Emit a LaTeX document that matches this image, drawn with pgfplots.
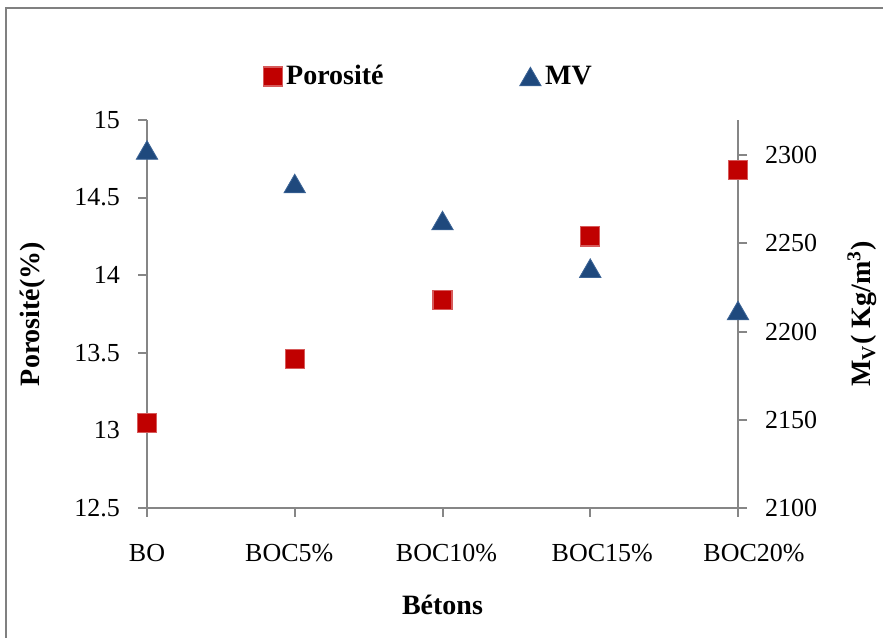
\documentclass[border=0pt]{standalone}
\usepackage{pgfplots}
\pgfplotsset{compat=1.18}
\usepackage{fontspec}
\setmainfont{Liberation Serif}
\definecolor{axgray}{RGB}{134,134,134}
\definecolor{framegray}{RGB}{128,128,128}
\definecolor{pred}{RGB}{192,0,0}
\definecolor{predb}{RGB}{214,90,90}
\definecolor{mblue}{RGB}{31,73,125}
\definecolor{mblueb}{RGB}{60,100,150}
\pgfplotsset{
  common/.style={
    set layers,
    scale only axis, width=295.5pt, height=194pt,
    at={(73.5pt,64.5pt)}, anchor=south west,
    xmin=0, xmax=4, clip=false,
    axis line style={axgray, line width=1pt, -},
    tick style={axgray, line width=1pt},
    tick align=outside, major tick length=4.5pt,
    tick label style={font=\fontsize{13}{15}\selectfont},
    /pgf/number format/assume math mode=true,
    /pgf/number format/1000 sep={},
  }
}
\begin{document}
\begin{tikzpicture}
\draw[framegray, line width=0.9pt] (3pt,-5pt) rectangle (446pt,314.5pt);
\begin{axis}[common,
  ymin=12.5, ymax=15,
  axis x line*=bottom, axis y line*=left,
  xtick={0,1,2,3,4},
  xticklabels={BO,\hspace*{-5.5pt}BOC5\%,\hspace*{4pt}BOC10\%,\hspace*{12pt}BOC15\%,\hspace*{16pt}BOC20\%},
  ytick={12.5,13,13.5,14,14.5,15},
  yticklabels={12.5,13,13.5,14,14.5,15},
  xticklabel style={yshift=-10pt},
  yticklabel style={xshift=-5.5pt},
  xlabel={Bétons}, ylabel={Porosité(\%)},
  every axis x label/.style={at={(axis description cs:0.5,-0.25)}, anchor=center,
    font=\bfseries\fontsize{14}{17}\selectfont},
  every axis y label/.style={at={(axis description cs:-0.193,0.5)}, rotate=90, anchor=center,
    font=\bfseries\fontsize{14}{17}\selectfont},
]
\addplot[only marks, mark=square*, mark size=4.75pt,
  mark options={fill=pred, draw=predb, line width=0.6pt}]
  coordinates {(0,13.05) (1,13.46) (2,13.84) (3,14.25) (4,14.68)};
\end{axis}
\begin{axis}[common,
  ymin=2100, ymax=2320,
  axis x line=none, axis y line*=right,
  ytick={2100,2150,2200,2250,2300},
  yticklabel style={xshift=5.5pt},
  ylabel={M\textsubscript{V}( Kg/m\textsuperscript{3})},
  every axis y label/.style={at={(axis description cs:1.21,0.5)}, rotate=90, anchor=center,
    font=\bfseries\fontsize{14}{17}\selectfont},
  legend columns=2,
  legend style={draw=none, fill=none, at={(axis description cs:0.478,1.112)}, anchor=center,
    font=\bfseries\fontsize{14}{17}\selectfont,
    /tikz/every even column/.append style={column sep=66pt}},
]
\addlegendimage{only marks, mark=square*, mark size=4.75pt,
  mark options={fill=pred, draw=predb, line width=0.6pt}}
\addlegendentry{Porosité}
\addplot[only marks, mark=triangle*, mark size=6.2pt,
  mark options={fill=mblue, draw=mblueb, line width=0.4pt, yshift=-1.55pt}]
  coordinates {(0,2303) (1,2284) (2,2263) (3,2236) (4,2212)};
\addlegendentry{MV}
\end{axis}
\pgfresetboundingbox
\useasboundingbox (0pt,0pt) rectangle (441.5pt,318.5pt);
\end{tikzpicture}
\end{document}
